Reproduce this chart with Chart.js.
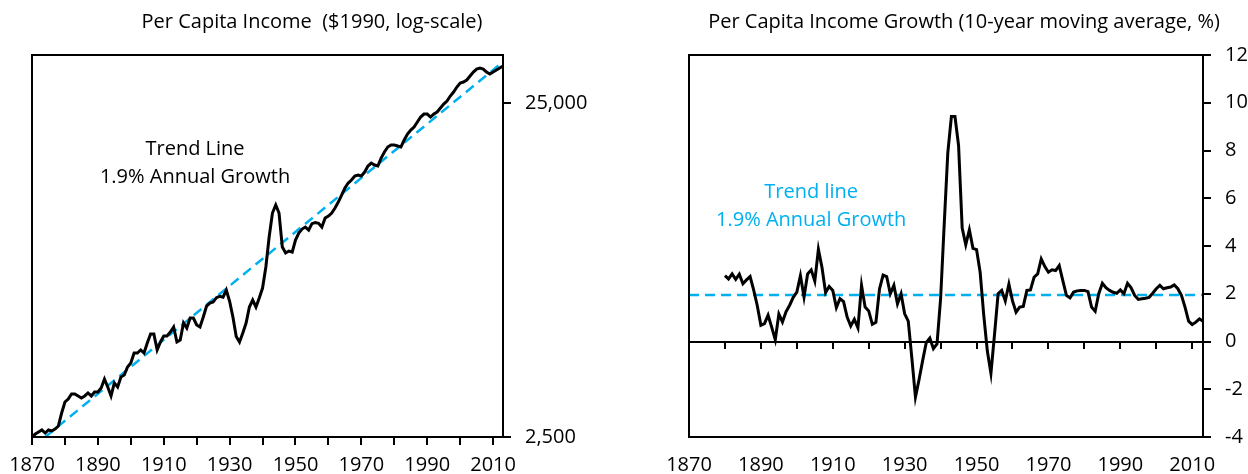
<!DOCTYPE html>
<html>
<head>
<meta charset="utf-8">
<script src="https://cdn.jsdelivr.net/npm/chart.js@4.4.1/dist/chart.umd.min.js"></script>
<style>
  body { margin: 0; background: #fff; }
  #wrap { position: relative; width: 1248px; height: 474px; }
  .panel { position: absolute; top: 0; width: 624px; height: 474px; }
</style>
</head>
<body>
<div id="wrap">
  <div class="panel" style="left:0"><canvas id="incomeChart" width="624" height="474"></canvas></div>
  <div class="panel" style="left:624px"><canvas id="growthChart" width="624" height="474"></canvas></div>
</div>
<script>
// Years
const years = [
  1870, 1871, 1872, 1873, 1874, 1875, 1876, 1877, 1878, 1879,
  1880, 1881, 1882, 1883, 1884, 1885, 1886, 1887, 1888, 1889,
  1890, 1891, 1892, 1893, 1894, 1895, 1896, 1897, 1898, 1899,
  1900, 1901, 1902, 1903, 1904, 1905, 1906, 1907, 1908, 1909,
  1910, 1911, 1912, 1913, 1914, 1915, 1916, 1917, 1918, 1919,
  1920, 1921, 1922, 1923, 1924, 1925, 1926, 1927, 1928, 1929,
  1930, 1931, 1932, 1933, 1934, 1935, 1936, 1937, 1938, 1939,
  1940, 1941, 1942, 1943, 1944, 1945, 1946, 1947, 1948, 1949,
  1950, 1951, 1952, 1953, 1954, 1955, 1956, 1957, 1958, 1959,
  1960, 1961, 1962, 1963, 1964, 1965, 1966, 1967, 1968, 1969,
  1970, 1971, 1972, 1973, 1974, 1975, 1976, 1977, 1978, 1979,
  1980, 1981, 1982, 1983, 1984, 1985, 1986, 1987, 1988, 1989,
  1990, 1991, 1992, 1993, 1994, 1995, 1996, 1997, 1998, 1999,
  2000, 2001, 2002, 2003, 2004, 2005, 2006, 2007, 2008, 2009,
  2010, 2011, 2012, 2013
];

// Per capita income, $1990
const income = [
  2500, 2552, 2588, 2624, 2570, 2624, 2606, 2642, 2697, 2950,
  3183, 3250, 3364, 3364, 3318, 3272, 3318, 3387, 3318, 3410,
  3410, 3506, 3730, 3530, 3318, 3629, 3530, 3782, 3835, 4052,
  4166, 4464, 4464, 4557, 4464, 4783, 5089, 5089, 4557, 4816,
  5019, 5019, 5160, 5341, 4816, 4883, 5490, 5304, 5683, 5683,
  5415, 5341, 5722, 6173, 6302, 6346, 6540, 6600, 6560, 6894,
  6380, 5722, 5000, 4816, 5124, 5490, 6131, 6434, 6131, 6523,
  6989, 8079, 9937, 11728, 12393, 11728, 9275, 8899, 9022, 8960,
  9734, 10215, 10501, 10647, 10429, 10900, 10980, 10920, 10647, 11329,
  11486, 11728, 12139, 12652, 13278, 13935, 14425, 14727, 15138, 15242,
  15138, 15562, 16221, 16560, 16333, 16221, 17141, 17866, 18493, 18750,
  18750, 18621, 18493, 19408, 20228, 20794, 21229, 21974, 22746, 23221,
  23221, 22746, 23221, 23544, 24203, 24880, 25400, 26292, 27028, 27977,
  28760, 28960, 29363, 30185, 31030, 31678, 31900, 31678, 31030, 30605,
  31030, 31462, 31900, 32338
];

// Per capita income growth, 10-year moving average, %
const growth = [
  null, null, null, null, null, null, null, null, null, null,
  2.76, 2.62, 2.83, 2.6, 2.82, 2.42, 2.58, 2.72, 2.15, 1.5,
  0.68, 0.75, 1.1, 0.6, 0.07, 1.15, 0.82, 1.25, 1.52, 1.85,
  2.07, 2.76, 1.86, 2.83, 3.0, 2.53, 3.86, 3.1, 2.05, 2.3,
  2.14, 1.42, 1.79, 1.67, 1.02, 0.65, 0.93, 0.57, 2.35, 1.44,
  1.28, 0.72, 0.8, 2.2, 2.78, 2.72, 2.0, 2.35, 1.58, 2.0,
  1.16, 0.85, -0.7, -2.33, -1.6, -0.8, -0.05, 0.14, -0.3, -0.1,
  1.8, 4.9, 7.9, 9.42, 9.42, 8.2, 4.75, 4.05, 4.68, 3.9,
  3.85, 2.9, 1.1, -0.4, -1.33, 0.3, 2.0, 2.14, 1.7, 2.4,
  1.7, 1.23, 1.44, 1.47, 2.14, 2.16, 2.69, 2.83, 3.46, 3.14,
  2.9, 3.0, 2.97, 3.18, 2.55, 1.93, 1.83, 2.07, 2.12, 2.14,
  2.14, 2.09, 1.44, 1.27, 2.0, 2.44, 2.25, 2.14, 2.06, 2.02,
  2.16, 2.0, 2.44, 2.25, 1.93, 1.76, 1.79, 1.81, 1.85, 2.02,
  2.21, 2.35, 2.21, 2.25, 2.28, 2.37, 2.21, 1.93, 1.44, 0.85,
  0.71, 0.81, 0.95, 0.85
];

// Trend lines (1.9% annual growth)
const trendYears = [1874, 2013];
const trendIncome = [2500, 33300];
const trendGrowthYears = [1870, 2013];
const trendGrowth = [1.95, 1.95];

// Ticks
const decadeTicks = [1870, 1880, 1890, 1900, 1910, 1920, 1930, 1940, 1950, 1960, 1970, 1980, 1990, 2000, 2010];
const yearLabels = [1870, 1890, 1910, 1930, 1950, 1970, 1990, 2010];
const incomeTicks = [2500, 25000];
const growthTicks = [-4, -2, 0, 2, 4, 6, 8, 10, 12];

const FONT = "'Open Sans', sans-serif";
const BLUE = '#00B0F0';

function points(xs, ys) {
  return xs.map((x, i) => ({ x: x, y: ys[i] }));
}

function withCommas(v) {
  return String(v).replace(/\B(?=(\d{3})+(?!\d))/g, ',');
}

// Frame around plot area + titles and notes
const panelText = {
  id: 'panelText',
  afterDatasetsDraw(chart, args, opts) {
    const ctx = chart.ctx;
    const a = chart.chartArea;
    ctx.save();
    ctx.strokeStyle = '#000';
    ctx.lineWidth = 2;
    ctx.strokeRect(a.left, a.top, a.right - a.left, a.bottom - a.top);

    ctx.textAlign = 'center';
    ctx.textBaseline = 'alphabetic';
    ctx.fillStyle = '#000';
    ctx.font = '20px ' + FONT;
    ctx.fillText(opts.title, opts.titleX, 28);

    const x = chart.scales.x.getPixelForValue(opts.noteAt[0]);
    const y = chart.scales.y.getPixelForValue(opts.noteAt[1]);
    ctx.fillStyle = opts.noteColor;
    ctx.font = '20px ' + FONT;
    opts.note.forEach((line, i) => ctx.fillText(line, x, y + i * 28));
    ctx.restore();
  }
};

function xAxis(extra) {
  return Object.assign({
    type: 'linear',
    min: 1870,
    max: 2013,
    afterBuildTicks: s => { s.ticks = decadeTicks.map(v => ({ value: v })); },
    afterFit: s => { s.height = 37; },
    grid: { drawOnChartArea: false, drawTicks: true, tickLength: 8, color: '#000', lineWidth: 2 },
    border: { display: true, color: '#000', width: 2 },
    ticks: {
      autoSkip: false, maxRotation: 0, padding: 8, color: '#000',
      font: { family: FONT, size: 20 },
      callback: v => yearLabels.includes(v) ? String(v) : ''
    }
  }, extra || {});
}

function yTicks(list, fmt, width) {
  return {
    position: 'right',
    afterBuildTicks: s => { s.ticks = list.map(v => ({ value: v })); },
    afterFit: s => { s.width = width; },
    grid: { drawOnChartArea: false, drawTicks: true, tickLength: 8, color: '#000', lineWidth: 2 },
    border: { display: true, color: '#000', width: 2 },
    ticks: { padding: 14, color: '#000', font: { family: FONT, size: 20 }, callback: fmt }
  };
}

const lineStyle = { borderColor: '#000', borderWidth: 3, pointRadius: 0, tension: 0, fill: false };
const trendStyle = { borderColor: BLUE, borderWidth: 2.5, borderDash: [10, 6], pointRadius: 0, fill: false };

// Left: per capita income
new Chart(document.getElementById('incomeChart'), {
  type: 'line',
  data: {
    datasets: [
      Object.assign({ data: points(years, income) }, lineStyle),
      Object.assign({ data: points(trendYears, trendIncome) }, trendStyle)
    ]
  },
  options: {
    responsive: false,
    animation: false,
    devicePixelRatio: 1,
    layout: { padding: { left: 32, top: 55, right: 0, bottom: 0 } },
    scales: {
      x: xAxis(),
      y: Object.assign({ type: 'logarithmic', min: 2500, max: 34900 },
        yTicks(incomeTicks, v => withCommas(v), 121))
    },
    plugins: {
      legend: { display: false },
      tooltip: { enabled: false },
      panelText: {
        title: 'Per Capita Income  ($1990, log-scale)',
        titleX: 312,
        note: ['Trend Line', '1.9% Annual Growth'],
        noteAt: [1919.5, 17500],
        noteColor: '#000'
      }
    }
  },
  plugins: [panelText]
});

// Right: growth
const growthX = xAxis();
growthX.grid = Object.assign({}, growthX.grid, { color: 'rgba(0,0,0,0)' });

new Chart(document.getElementById('growthChart'), {
  type: 'line',
  data: {
    datasets: [
      Object.assign({ data: points(years, growth) }, lineStyle),
      Object.assign({ data: points(trendGrowthYears, trendGrowth) }, trendStyle)
    ]
  },
  options: {
    responsive: false,
    animation: false,
    devicePixelRatio: 1,
    layout: { padding: { left: 65, top: 55, right: 0, bottom: 0 } },
    scales: {
      x: growthX,
      zero: {
        type: 'linear',
        axis: 'x',
        position: { y: 0 },
        min: 1870,
        max: 2013,
        afterBuildTicks: s => { s.ticks = decadeTicks.slice(1).map(v => ({ value: v })); },
        grid: { drawOnChartArea: false, drawTicks: true, tickLength: 6, color: '#000', lineWidth: 2 },
        border: { display: true, color: '#000', width: 2 },
        ticks: { display: false }
      },
      y: Object.assign({ type: 'linear', min: -4, max: 12 },
        yTicks(growthTicks, v => String(v), 45))
    },
    plugins: {
      legend: { display: false },
      tooltip: { enabled: false },
      panelText: {
        title: 'Per Capita Income Growth (10-year moving average, %)',
        titleX: 340,
        note: ['Trend line', '1.9% Annual Growth'],
        noteAt: [1904, 6.0],
        noteColor: BLUE
      }
    }
  },
  plugins: [panelText]
});
</script>
</body>
</html>
